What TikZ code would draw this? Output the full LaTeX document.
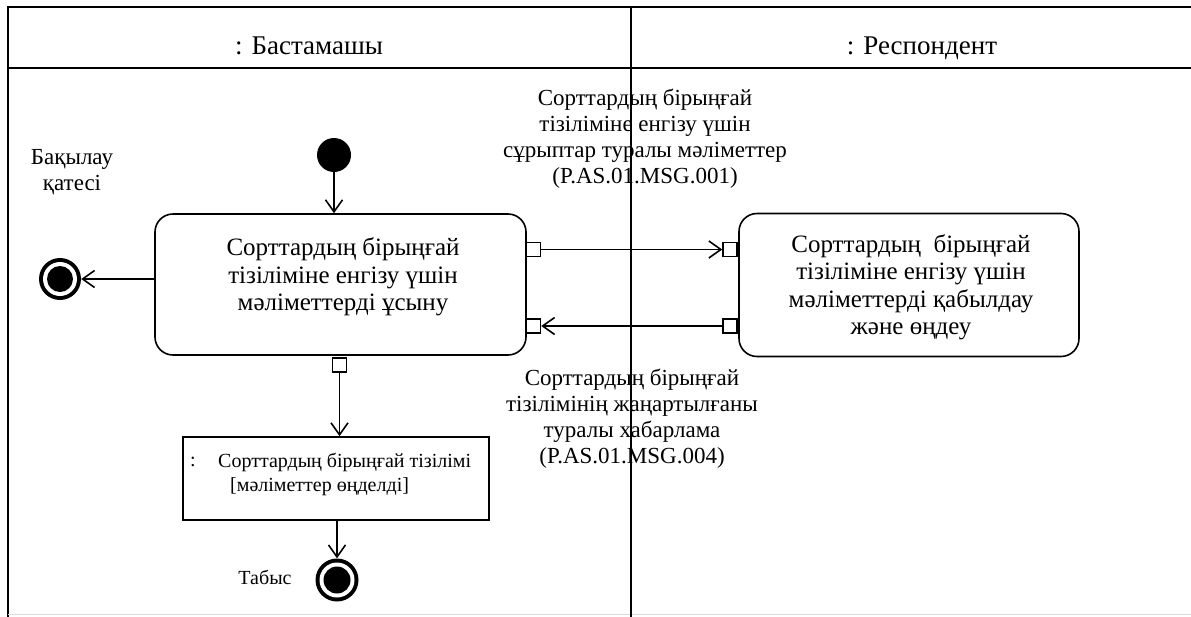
\documentclass[tikz,border=0pt]{standalone}
\usepackage{fontspec}
\setmainfont{Liberation Serif}
\usetikzlibrary{arrows.meta}
\begin{document}
\begin{tikzpicture}[x=1pt,y=-1pt,
  frameline/.style={line width=1.8pt},
  conn/.style={line width=1.6pt,-{Straight Barb[length=12pt,width=17pt,line width=1.6pt]}},
  action/.style={draw,line width=1.6pt,rounded corners=18pt,minimum width=#1,align=center,inner sep=0pt},
  pinbox/.style={draw,line width=1.5pt,fill=white,minimum size=14pt,inner sep=0pt},
  objbox/.style={draw,line width=1.6pt,minimum width=306pt,minimum height=83pt,inner sep=0pt},
  hdr/.style={font=\fontsize{27}{30}\selectfont,anchor=base},
  lbl/.style={align=center,font=\fontsize{23}{26}\selectfont},
  boxtxt/.style={font=\fontsize{25}{27.5}\selectfont},
  smalltxt/.style={font=\fontsize{20}{23}\selectfont,inner sep=0pt}
]
\useasboundingbox (0,0) rectangle (1191,616);
% frame
\draw[frameline] (1195,7) -- (8,7) -- (8,620);
\draw[frameline] (8,68) -- (1195,68);
\draw[line width=1pt,black!15] (8,614) -- (1191,614);
\draw[line width=1.5pt] (631,7) -- (631,620);
% headers
\node[hdr] (hL) at (309,54) {: Бастамашы};
\node[hdr] (hR) at (922,54) {: Респондент};
% start node
\node[circle,fill=black,minimum size=34pt,inner sep=0pt] (start) at (334,155) {};
% actions
\node[action=371pt,minimum height=141pt] (act1) at (340.5,284.5) {};
\node[boxtxt,align=center] (act1t) at (343,277) {Сорттардың бірыңғай\\тізіліміне енгізу үшін\\мәліметтерді ұсыну};
\node[action=340pt,minimum height=143pt] (act2) at (909,285) {};
\node[boxtxt,align=center] (act2t) at (911,287) {Сорттардың \ бірыңғай\\тізіліміне енгізу үшін\\мәліметтерді қабылдау\\және өңдеу};
% pins
\node[pinbox] (p1) at (533.5,249.5) {};
\node[pinbox] (p2) at (533.5,326) {};
\node[pinbox] (p3) at (730,249.5) {};
\node[pinbox] (p4) at (730,326) {};
\node[pinbox] (p5) at (339.5,365) {};
% object node
\node[objbox] (obj) at (336,478.5) {};
\node[smalltxt,anchor=west] (objc) at (190,462) {:};
\node[smalltxt,anchor=west] (objl1) at (218,462) {Сорттардың бірыңғай тізілімі};
\node[smalltxt,anchor=west] (objl2) at (230,487) {[мәліметтер өңделді]};
% final nodes
\node[circle,fill=black,minimum size=42pt,inner sep=0pt] (fin1) at (60,279) {};
\fill[white] (fin1.center) circle (17pt);
\fill[black] (fin1.center) circle (13pt);
\node[circle,fill=black,minimum size=43pt,inner sep=0pt] (fin2) at (337,580) {};
\fill[white] (fin2.center) circle (17.5pt);
\fill[black] (fin2.center) circle (13.5pt);
% labels
\node[lbl] (errl) at (72,172) {Бақылау\\қатесі};
\node[lbl,font=\fontsize{20}{23}\selectfont] (succ) at (265,577) {Табыс};
\node[lbl] (m1) at (645,139) {Сорттардың бірыңғай\\тізіліміне енгізу үшін\\сұрыптар туралы мәліметтер\\(P.AS.01.MSG.001)};
\node[lbl] (m2) at (632,419) {Сорттардың бірыңғай\\тізілімінің жаңартылғаны\\туралы хабарлама\\(P.AS.01.MSG.004)};
% connectors
\draw[conn] (start) -- (start |- act1.north);
\draw[conn] (fin1 -| act1.west) -- (fin1);
\draw[conn] (p1.east) -- (p3.west);
\draw[conn] (p4.west) -- (p2.east);
\draw[conn] (p5.south) -- (p5.south |- obj.north);
\draw[conn] (obj.south -| fin2) -- (fin2);
\end{tikzpicture}
\end{document}
